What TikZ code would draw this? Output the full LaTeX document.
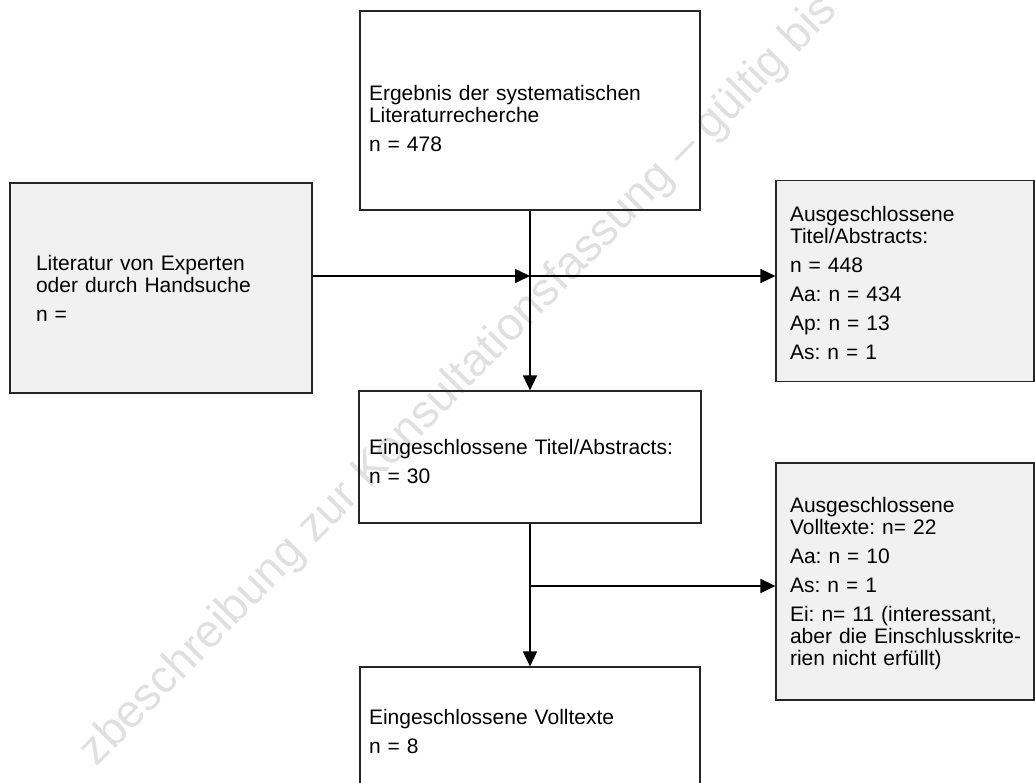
\documentclass[tikz,border=0pt]{standalone}
\usepackage{fontspec}
\setmainfont{Liberation Sans}
\usetikzlibrary{arrows.meta}
\definecolor{boxgray}{RGB}{241,241,241}
\definecolor{markgray}{RGB}{224,224,224}
\frenchspacing

\begin{document}
\begin{tikzpicture}[x=1pt, y=-1pt, >={Triangle[length=15pt,width=14pt]}, line width=1.6pt]
\tikzset{
  box/.style={
    draw=black!85, line width=1.2pt, rectangle,
    align=left, inner ysep=0pt,
    font=\fontsize{21}{22}\selectfont\frenchspacing
  },
  greybox/.style={box, fill=boxgray},
  firstline/.style={execute at begin node={\rule{0pt}{#1}}}
}
\useasboundingbox (0,0) rectangle (1035,782);

\node[font=\fontsize{46}{46}\selectfont, text=markgray, rotate=45.5, anchor=base west] (mark) at (94,770) {zbeschreibung zur Konsultationsfassung – gültig bis};

\node[box, firstline=31pt, text width=322pt, inner xsep=9pt, minimum height=199pt] (result) at (530,110.5) {Ergebnis der systematischen\\ Literaturrecherche\\[7pt] n = 478};
\node[greybox, text width=250pt, inner xsep=26pt, minimum height=210pt] (lit) at (161,288) {Literatur von Experten\\ oder durch Handsuche\\[7pt] n =};
\node[greybox, firstline=19pt, text width=230pt, inner xsep=14pt, minimum height=201pt] (excl1) at (905,281) {Ausgeschlossene\\ Titel/Abstracts:\\[7pt] n = 448\\[7pt] Aa: n = 434\\[7pt] Ap: n = 13\\[7pt] As: n = 1};
\node[box, firstline=25pt, text width=322pt, inner xsep=10pt, minimum height=132pt] (incl1) at (530,457) {Eingeschlossene Titel/Abstracts:\\[7pt] n = 30};
\node[greybox, firstline=19pt, text width=230pt, inner xsep=14pt, minimum height=237pt] (excl2) at (905,581.5) {Ausgeschlossene\\ Volltexte: n= 22\\[7pt] Aa: n = 10\\[7pt] As: n = 1\\[7pt] Ei: n= 11 (interessant,\\ \mbox{aber die Einschlusskrite-}\\ rien nicht erfüllt)};
\node[box, text width=322pt, inner xsep=9pt, minimum height=128pt] (incl2) at (530,731) {Eingeschlossene Volltexte\\[7pt] n = 8};

\coordinate (j1) at (530,276);
\coordinate (j2) at (530,586);

\draw[->] (result.south) -- (result.south |- incl1.north);
\draw[->] (lit.east |- j1) -- (j1);
\draw[->] (j1) -- (j1 -| excl1.west);
\draw[->] (incl1.south) -- (incl1.south |- incl2.north);
\draw[->] (j2) -- (j2 -| excl2.west);
\end{tikzpicture}
\end{document}
